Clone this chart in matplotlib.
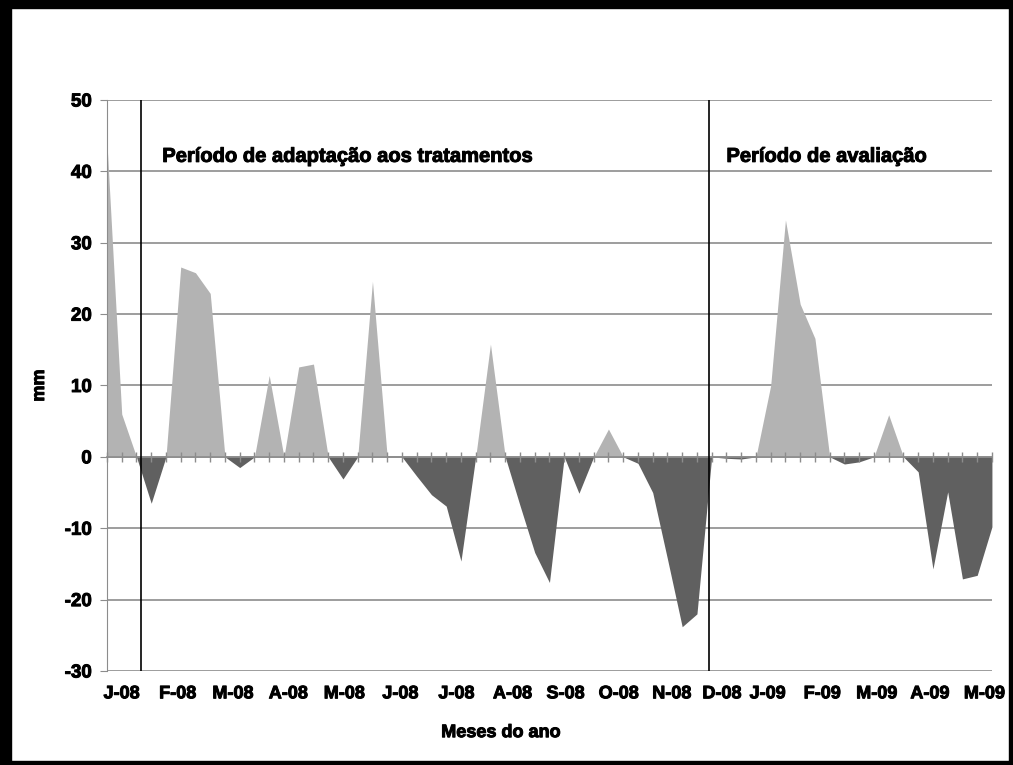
import numpy as np
import matplotlib
matplotlib.use("Agg")
import matplotlib.pyplot as plt
import matplotlib.patheffects as pe
from matplotlib.patches import Rectangle
from matplotlib.transforms import blended_transform_factory

plt.rcParams['font.family'] = ['Liberation Sans', 'DejaVu Sans']

# saldo hidrico (mm) por periodo
saldo = [44.0, 6.0, 0, -6.5, 0, 26.6, 25.8, 22.9, 0, -1.5,
         0, 11.4, 0, 12.6, 13.0, 0, -3.1, 0, 24.6, 0,
         0, -2.7, -5.3, -6.9, -14.6, 0, 15.8, 0, -6.8, -13.4,
         -17.6, 0, -5.1, 0, 3.9, 0, -0.9, -5.0, -14.3, -23.8,
         -22.0, 0, -0.2, -0.3, 0, 10.0, 33.2, 21.4, 16.6, 0,
         -1.0, -0.7, 0, 5.9, 0, -2.1, -15.7, -4.9, -17.1, -16.6,
         -9.8]

meses = ['J-08', 'F-08', 'M-08', 'A-08', 'M-08', 'J-08', 'J-08', 'A-08', 'S-08',
         'O-08', 'N-08', 'D-08', 'J-09', 'F-09', 'M-09', 'A-09', 'M-09']
meses_pos = [1.0, 4.8, 8.55, 12.3, 16.1, 19.9, 23.7, 27.5, 31.1,
             34.7, 38.3, 41.7, 44.8, 48.5, 52.2, 55.8, 59.5]

divisoes = [2.3, 40.85]  # limites dos periodos
periodos = ['Período de adaptação aos tratamentos', 'Período de avaliação']
periodos_x = [3.75, 42.0]

y_ticks = [50, 40, 30, 20, 10, 0, -10, -20, -30]

x = np.arange(len(saldo))
vals = np.array(saldo)
pos = np.maximum(vals, 0)
neg = np.minimum(vals, 0)

heavy = [pe.withStroke(linewidth=0.7, foreground='black')]

fig = plt.figure(figsize=(10.13, 7.65), dpi=100)
ax = fig.add_axes([0.1056, 0.1229, 0.8736, 0.7464])

for yv in y_ticks:
    ax.axhline(yv, color='#8c8c8c', lw=1.2, zorder=0)

ax.fill_between(x, 0, pos, color='#b3b3b3', lw=0, zorder=1)
ax.fill_between(x, 0, neg, color='#606060', lw=0, zorder=1)

for d in divisoes:
    ax.axvline(d, color='black', lw=1.2, zorder=3)

ax.set_xlim(0, len(saldo) - 1)
ax.set_ylim(-30, 50)

ax.spines['top'].set_visible(False)
ax.spines['right'].set_visible(False)
ax.spines['left'].set_color('#8c8c8c')
ax.spines['bottom'].set_position(('data', 0))
ax.spines['bottom'].set_color('#8c8c8c')
ax.spines['bottom'].set_linewidth(1.2)

ax.set_xticks(x)
ax.set_xticklabels([])
ax.tick_params(axis='x', direction='inout', length=7, color='#8c8c8c', width=1)

ax.set_yticks(y_ticks)
ax.set_yticklabels([str(v) for v in y_ticks], fontsize=13.5, fontweight='bold')
ax.tick_params(axis='y', direction='out', length=5, color='#8c8c8c', pad=6)
for lbl in ax.get_yticklabels():
    lbl.set_path_effects(heavy)

tr = blended_transform_factory(ax.transData, ax.transAxes)
for p, m in zip(meses_pos, meses):
    ax.text(p, -0.04, m, transform=tr, ha='center', va='center',
            fontsize=13, fontweight='bold', path_effects=heavy)

for px, t in zip(periodos_x, periodos):
    ax.text(px, 42.1, t, ha='left', va='center', fontsize=14.5, fontweight='bold',
            path_effects=heavy)

ax.set_ylabel('mm', fontsize=13, fontweight='bold', labelpad=12, path_effects=heavy)
ax.text(0.445, -0.108, 'Meses do ano', transform=ax.transAxes, ha='center',
        va='center', fontsize=13, fontweight='bold', path_effects=heavy)

# moldura preta da figura
for r in [(0, 0, 0.011, 1), (0, 0.989, 1, 0.011), (0.996, 0, 0.004, 1), (0, 0, 1, 0.005)]:
    fig.patches.append(Rectangle((r[0], r[1]), r[2], r[3], transform=fig.transFigure,
                                 color='black', zorder=10))

fig.savefig('out.png', dpi=100)
